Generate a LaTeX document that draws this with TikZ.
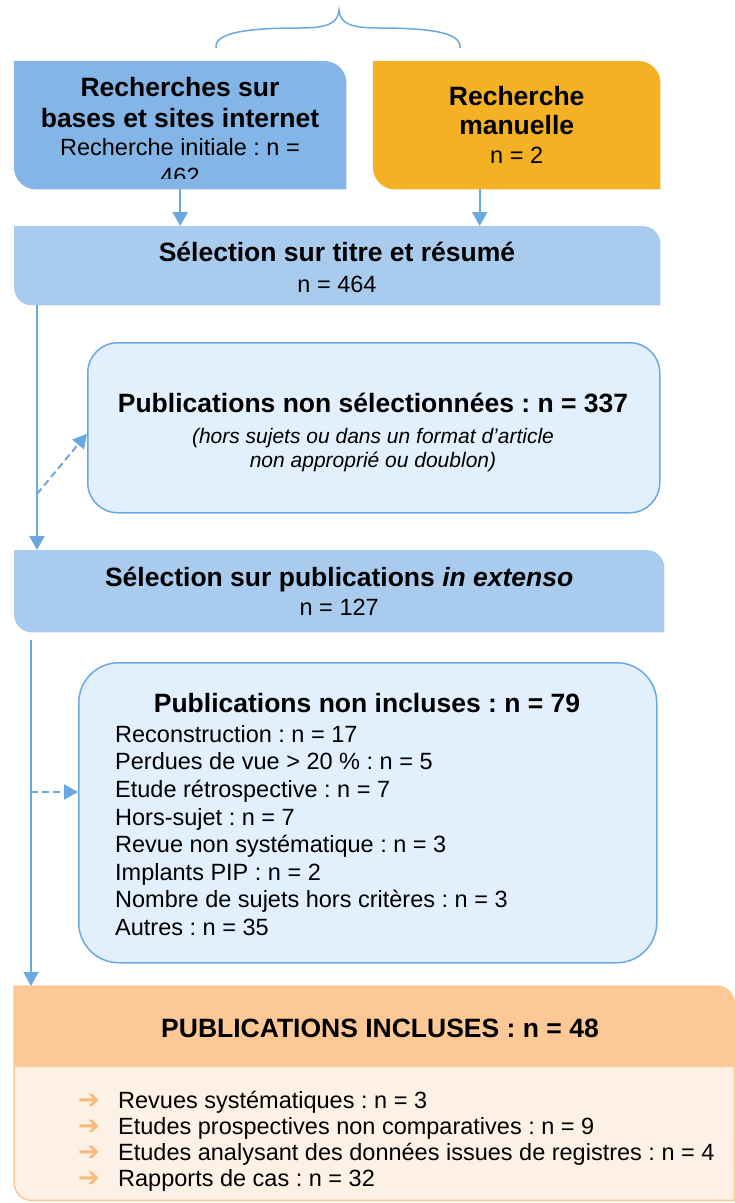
\documentclass[tikz,border=0pt]{standalone}
\usepackage{fontspec}
\setmainfont{Liberation Sans}
\newfontfamily\symbfont{DejaVu Sans}
\usetikzlibrary{arrows.meta,positioning,backgrounds,calc}
\frenchspacing

\definecolor{bleuvif}{RGB}{131,182,231}
\definecolor{ocre}{RGB}{245,177,36}
\definecolor{bleuclair}{RGB}{169,204,238}
\definecolor{bleupale}{RGB}{226,239,252}
\definecolor{bleutrait}{RGB}{108,168,224}
\definecolor{peche}{RGB}{252,200,150}
\definecolor{pechepale}{RGB}{253,241,230}
\definecolor{pechefleche}{RGB}{248,186,124}

\newcommand\gras[1]{{\fontsize{26.5}{31}\selectfont\bfseries #1}}
\newcommand\ital[1]{{\fontsize{21}{23}\selectfont\itshape #1}}
\newcommand\fl{\makebox[40pt][l]{\color{pechefleche}\fontsize{26}{26}\symbfont\char"2794}}
% box with rounded top right and bottom left corners
\newcommand\diagbox[3]{%
  \fill[#2] (#1.south east) -- ([yshift=-#3pt]#1.north east)
    arc[start angle=0,end angle=90,radius=#3pt] -- (#1.north west)
    -- ([yshift=#3pt]#1.south west)
    arc[start angle=180,end angle=270,radius=#3pt] -- cycle;}

\begin{document}
\begin{tikzpicture}[x=1pt,y=1pt,
  boite/.style={inner sep=0pt, anchor=north west, align=center,
    font=\fontsize{23.5}{29}\selectfont},
  texte/.style={inner sep=0pt, font=\fontsize{23.5}{27.6}\selectfont},
  fleche/.style={draw=bleutrait, line width=2pt,
    -{Triangle[length=14pt,width=15pt]}},
  pointille/.style={fleche, dash pattern=on 7pt off 4pt},
  cadre/.style={boite, draw=bleutrait, fill=bleupale, line width=1.5pt}]

\useasboundingbox (0,0) rectangle (735,-1203);

% accolade
\draw[bleutrait, line width=1.5pt] (216,-48)
  .. controls (214,-32) and (250,-28) .. (300,-28)
  .. controls (330,-28) and (338,-22) .. (339,-10)
  .. controls (340,-22) and (348,-28) .. (378,-28)
  .. controls (428,-28) and (462,-32) .. (460,-48);

% boites
\node[boite, minimum width=332pt, minimum height=128pt] (rech) at (14,-61) {};
\begin{scope}
  \clip (rech.north west) rectangle (rech.east |- 0,-178);
  \node[boite, anchor=base] (rechtxt) at (180,-184)
    {\gras{Recherches sur}\\[2pt]\gras{bases et sites internet}\\[-1pt]
     Recherche initiale : n =\\ 462};
\end{scope}
\node[boite, minimum width=287pt, minimum height=128pt] (man) at (373,-61)
  {\gras{Recherche}\\\gras{manuelle}\\n = 2};
\node[boite, minimum width=646pt, minimum height=79pt] (sel) at (14,-226) {};
\node[boite, anchor=base] (seltxt) at (337,-292)
  {\gras{Sélection sur titre et résumé}\\[2pt]n = 464};
\node[cadre, rounded corners=30pt, minimum width=572pt, minimum height=170pt]
  (nonsel) at (87,-342) {};
\node[boite, anchor=base] (nonseltxt) at (373,-467)
  {\gras{Publications non sélectionnées : n = 337}\\[2pt]
   \ital{(hors sujets ou dans un format d'article}\\[-5pt]
   \ital{non approprié ou doublon)}};
\node[boite, minimum width=650pt, minimum height=82pt] (ext) at (14,-550)
  {\gras{Sélection sur publications \itshape in extenso}\\n = 127};
\node[cadre, rounded corners=40pt, minimum width=578pt, minimum height=300pt]
  (nonincl) at (78,-662) {};
\node[texte, anchor=base] (noninclt) at (367,-712)
  {\gras{Publications non incluses : n = 79}};
\node[texte, anchor=north west, align=left] (noninclliste) at (115,-725)
  {Reconstruction : n = 17\\
   Perdues de vue > 20 \% : n = 5\\
   Etude rétrospective : n = 7\\
   Hors-sujet : n = 7\\
   Revue non systématique : n = 3\\
   Implants PIP : n = 2\\
   Nombre de sujets hors critères : n = 3\\
   Autres : n = 35};
\node[boite, minimum width=720pt, minimum height=214pt] (incl) at (14,-986) {};
\node[texte, anchor=base] (inclt) at (380,-1037)
  {\gras{PUBLICATIONS INCLUSES : n = 48}};
\node[texte, anchor=base west, align=left,
  font=\fontsize{23.5}{25.7}\selectfont] (inclliste) at (78,-1186)
  {\fl Revues systématiques : n = 3\\
   \fl Etudes prospectives non comparatives : n = 9\\
   \fl Etudes analysant des données issues de registres : n = 4\\
   \fl Rapports de cas : n = 32};

\begin{scope}[on background layer]
  \diagbox{rech}{bleuvif}{22}
  \diagbox{man}{ocre}{22}
  \diagbox{sel}{bleuclair}{18}
  \diagbox{ext}{bleuclair}{18}
  \draw[peche, fill=pechepale, line width=1.5pt] (incl.south east)
    -- ([yshift=-18pt]incl.north east)
    arc[start angle=0,end angle=90,radius=18pt] -- (incl.north west)
    -- ([yshift=18pt]incl.south west)
    arc[start angle=180,end angle=270,radius=18pt] -- cycle;
  \fill[peche] ([yshift=-81pt]incl.north west) -- (incl.north west)
    -- ([xshift=-18pt]incl.north east)
    arc[start angle=90,end angle=0,radius=18pt]
    -- ([yshift=-81pt]incl.north east) -- cycle;
\end{scope}

% fleches
\draw[fleche] (rech.south) -- (rech.south |- sel.north);
\draw[fleche] ([xshift=-37pt]man.south) -- ([xshift=-37pt]man.south |- sel.north);
\draw[fleche] ([xshift=23pt]sel.south west) -- ([xshift=23pt]ext.north west);
\coordinate (d1) at (37,-494);
\draw[pointille] (d1) -- ([yshift=-6pt]nonsel.west);
\draw[fleche] ([xshift=17pt,yshift=-8pt]ext.south west) -- ([xshift=17pt]incl.north west);
\coordinate (d2) at (31,-792);
\draw[pointille] (d2) -- (d2 -| nonincl.west);
\end{tikzpicture}
\end{document}
